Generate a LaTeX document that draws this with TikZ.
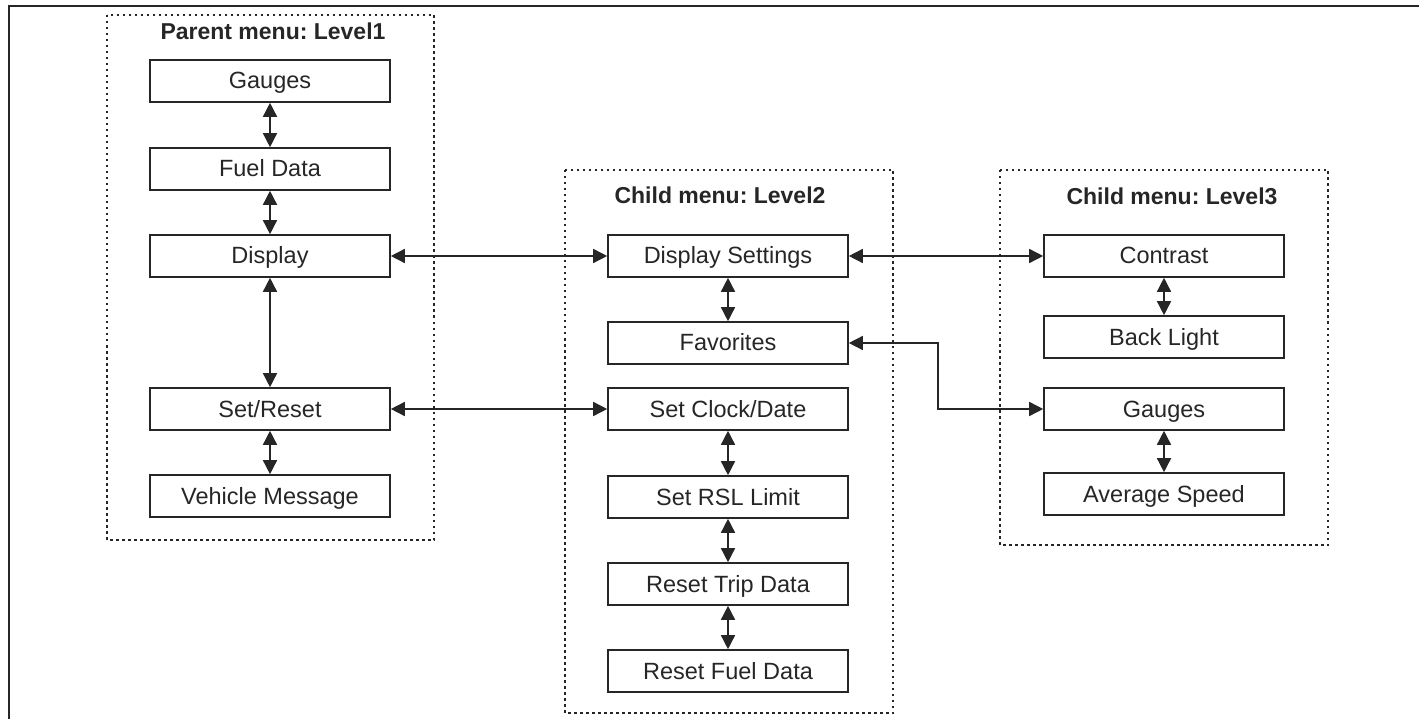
\documentclass[tikz,border=0pt]{standalone}
\usepackage{fontspec}
\setmainfont{Liberation Sans}
\usetikzlibrary{arrows.meta}
\definecolor{ink}{HTML}{262626}
\tikzset{
  menubox/.style={draw=ink, line width=1.6pt, minimum width=240pt, minimum height=42pt, inner sep=0pt, text height=18pt, text depth=2pt, font=\fontsize{23.5}{26}\selectfont, text=ink},
  grpbox/.style={draw=ink, line width=1.6pt, dash pattern=on 2.5pt off 3.5pt},
  grptitle/.style={font=\fontsize{23}{26}\selectfont\bfseries, text=ink, inner sep=0pt},
  link/.style={draw=ink, line width=1.5pt, {Triangle[length=14pt,width=14pt]}-{Triangle[length=14pt,width=14pt]}}
}
\frenchspacing
\begin{document}
\begin{tikzpicture}[x=1pt,y=-1pt]
\useasboundingbox (0,0) rectangle (1419,719);
% outer frame
\draw[line width=1.6pt, ink] (9,719) -- (9,6) -- (1419,6);
% group boxes
\draw[grpbox] (107,15) rectangle (434,540);
\draw[grpbox] (565,170) rectangle (893,713);
\draw[grpbox] (1000,170) rectangle (1328,545);
% titles
\node[grptitle] (t1) at (273,31) {Parent menu: Level1};
\node[grptitle] (t2) at (720,195) {Child menu: Level2};
\node[grptitle] (t3) at (1172,196) {Child menu: Level3};
% level 1
\node[menubox] (a1) at (270,81) {Gauges};
\node[menubox] (a2) at (270,169) {Fuel Data};
\node[menubox] (a3) at (270,256) {Display};
\node[menubox] (a4) at (270,409) {Set/Reset};
\node[menubox] (a5) at (270,496) {Vehicle Message};
% level 2
\node[menubox] (b1) at (728,256) {Display Settings};
\node[menubox] (b2) at (728,343) {Favorites};
\node[menubox] (b3) at (728,409) {Set Clock/Date};
\node[menubox] (b4) at (728,497) {Set RSL Limit};
\node[menubox] (b5) at (728,584) {Reset Trip Data};
\node[menubox] (b6) at (728,671) {Reset Fuel Data};
% level 3
\node[menubox] (c1) at (1164,256) {Contrast};
\node[menubox] (c2) at (1164,337) {Back Light};
\node[menubox] (c3) at (1164,409) {Gauges};
\node[menubox] (c4) at (1164,494) {Average Speed};
% vertical links
\draw[link] (a1) -- (a2);
\draw[link] (a2) -- (a3);
\draw[link] (a3) -- (a4);
\draw[link] (a4) -- (a5);
\draw[link] (b1) -- (b2);
\draw[link] (b3) -- (b4);
\draw[link] (b4) -- (b5);
\draw[link] (b5) -- (b6);
\draw[link] (c1) -- (c2);
\draw[link] (c3) -- (c4);
% horizontal links
\draw[link] (a3) -- (b1);
\draw[link] (a4) -- (b3);
\draw[link] (b1) -- (c1);
\coordinate (kx) at (938,0);
\draw[link] (b2.east) -- (b2.east -| kx) -- (c3.west -| kx) -- (c3.west);
\end{tikzpicture}
\end{document}
